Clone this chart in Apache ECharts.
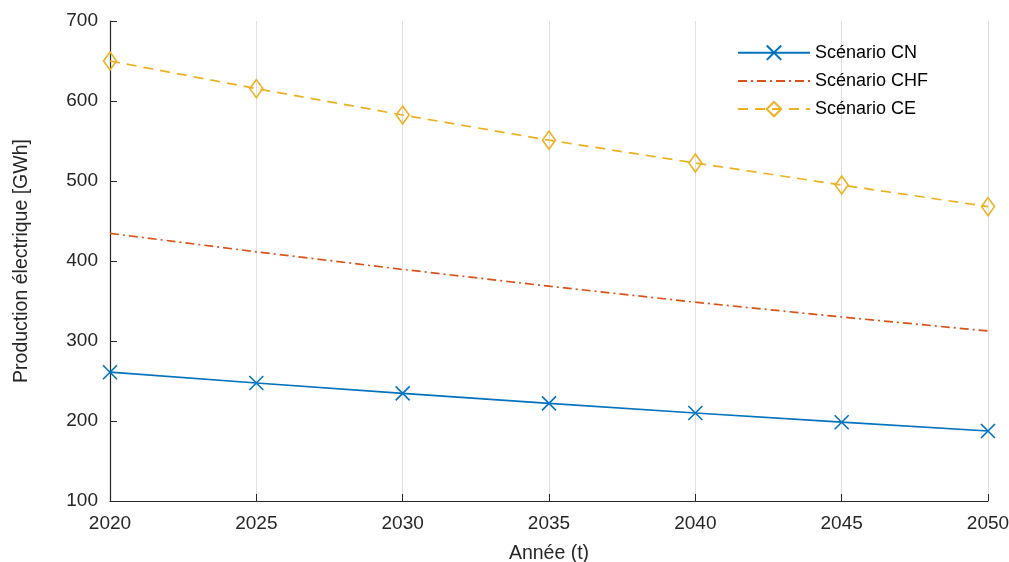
<!DOCTYPE html>
<html><head><meta charset="utf-8">
<script src="https://cdn.jsdelivr.net/npm/echarts@6/dist/echarts.min.js"></script>
<style>html,body{margin:0;padding:0;background:#fff}#c{width:1009px;height:562px}</style>
</head><body><div id="c"></div>
<script>
const years = [2020, 2025, 2030, 2035, 2040, 2045, 2050];
const cn  = [261, 247.5, 234.5, 222, 210, 198.5, 187.5];
const chf = [434.5, 411.5, 389.5, 368.5, 348.5, 330, 312.5];
const ce  = [650, 615.5, 582.5, 551, 522.5, 495, 468];
const names = ['Scénario CN', 'Scénario CHF', 'Scénario CE'];
const pairs = a => years.map((y, i) => [y, a[i]]);
const font = 'Helvetica, Arial, "Liberation Sans", sans-serif';
const chart = echarts.init(document.getElementById('c'));
chart.setOption({
  animation: false,
  backgroundColor: '#fff',
  grid: {left: 110, right: 21, top: 21, bottom: 61, containLabel: false, outerBoundsMode: 'none'},
  legend: {
    orient: 'vertical', left: 732, top: 38, itemGap: 9.5,
    itemWidth: 72, itemHeight: 18,
    textStyle: {fontFamily: font, fontSize: 18, color: '#000'},
    data: [
      {name: names[0]},
      {name: names[1], itemStyle: {color: 'transparent', borderColor: 'transparent', opacity: 0}},
      {name: names[2]}
    ]
  },
  xAxis: {
    type: 'value', min: 2020, max: 2050, interval: 5,
    name: 'Année (t)', nameLocation: 'middle', nameGap: 43,
    nameTextStyle: {fontFamily: font, fontSize: 19.5, color: '#262626'},
    axisLine: {show: true, lineStyle: {color: '#262626', width: 1.2}},
    axisTick: {show: true, inside: true, length: 7, lineStyle: {color: '#262626'}},
    axisLabel: {fontFamily: font, fontSize: 19, color: '#262626', margin: 13, formatter: v => String(v)},
    splitLine: {show: true, lineStyle: {color: '#dfdfdf', width: 1}}
  },
  yAxis: {
    type: 'value', min: 100, max: 700, interval: 100,
    name: 'Production électrique [GWh]', nameLocation: 'middle', nameGap: 78,
    nameTextStyle: {fontFamily: font, fontSize: 19.5, color: '#262626'},
    axisLine: {show: true, lineStyle: {color: '#262626', width: 1.2}},
    axisTick: {show: true, inside: true, length: 7, lineStyle: {color: '#262626'}},
    axisLabel: {fontFamily: font, fontSize: 19, color: '#262626', margin: 12},
    splitLine: {show: false}
  },
  series: [
    {
      name: names[0], type: 'line', data: pairs(cn),
      symbol: 'path://M0,0L10,10M10,0L0,10', symbolSize: 14,
      itemStyle: {color: 'none', borderColor: '#0072BD', borderWidth: 1.6},
      lineStyle: {color: '#0072BD', width: 1.7}
    },
    {
      name: names[1], type: 'line', data: pairs(chf),
      symbol: 'none',
      itemStyle: {color: '#D95319'},
      lineStyle: {color: '#D95319', width: 1.7, type: [9, 4, 2, 4]}
    },
    {
      name: names[2], type: 'line', data: pairs(ce),
      symbol: 'diamond', symbolSize: [13, 18],
      itemStyle: {color: 'none', borderColor: '#EDB120', borderWidth: 1.6},
      lineStyle: {color: '#EDB120', width: 1.7, type: [10, 7]}
    }
  ]
});
</script></body></html>
